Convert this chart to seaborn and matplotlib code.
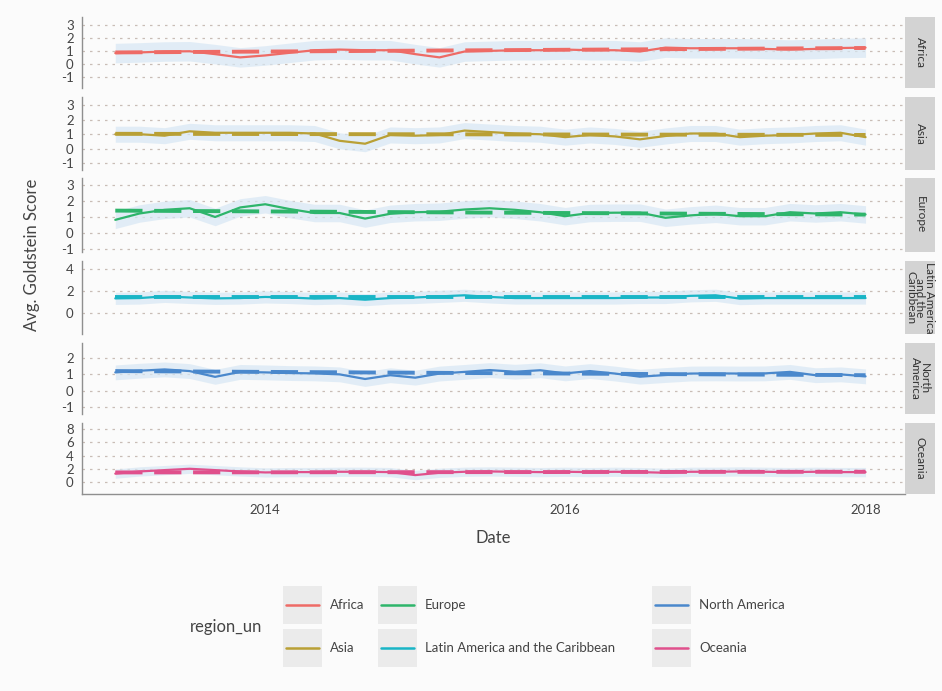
import matplotlib
matplotlib.use("Agg")
import matplotlib.pyplot as plt
from matplotlib.patches import Rectangle
from matplotlib.lines import Line2D
import pandas as pd
import seaborn as sns

# ---- data -------------------------------------------------------------
regions = ["Africa", "Asia", "Europe", "Latin America and the Caribbean",
           "North America", "Oceania"]
strip_labels = ["Africa", "Asia", "Europe", "Latin America\nand the\nCaribbean",
                "North\nAmerica", "Oceania"]
colors = ["#EE6B66", "#B9A035", "#2EB56B", "#19B5C6", "#4A88CC", "#E0508C"]

# smoothed daily average Goldstein score, sampled every two months 2013-01 .. 2018-01
sample_dates = pd.date_range("2013-01-01", "2018-01-01", freq="2MS")
africa_smooth = [0.83, 0.88, 0.95, 0.97, 0.75, 0.50, 0.65, 0.85, 1.05, 1.10, 1.05,
                 1.05, 0.75, 0.50, 0.95, 1.00, 1.05, 1.05, 1.10, 1.05, 1.05, 0.95,
                 1.25, 1.20, 1.20, 1.20, 1.15, 1.10, 1.15, 1.22, 1.25]
asia_smooth = [1.00, 1.00, 0.90, 1.20, 1.10, 1.10, 1.10, 1.10, 1.05, 0.55, 0.35,
               0.95, 0.90, 0.95, 1.25, 1.15, 1.05, 1.00, 0.80, 0.95, 0.85, 0.65,
               0.88, 1.05, 1.05, 0.80, 0.90, 0.95, 1.05, 1.10, 0.80]
europe_smooth = [0.82, 1.22, 1.45, 1.55, 1.00, 1.60, 1.80, 1.50, 1.25, 1.25, 0.90,
                 1.20, 1.30, 1.33, 1.47, 1.55, 1.45, 1.30, 1.05, 1.25, 1.27, 1.27,
                 0.95, 1.10, 1.20, 1.05, 1.05, 1.30, 1.22, 1.30, 1.16]
latam_smooth = [1.32, 1.35, 1.50, 1.40, 1.32, 1.35, 1.45, 1.40, 1.30, 1.35, 1.20,
                1.35, 1.40, 1.50, 1.60, 1.45, 1.35, 1.35, 1.35, 1.35, 1.35, 1.40,
                1.40, 1.55, 1.60, 1.30, 1.35, 1.35, 1.35, 1.35, 1.35]
namerica_smooth = [1.12, 1.22, 1.30, 1.20, 0.85, 1.15, 1.12, 1.08, 1.06, 1.00, 0.72,
                   0.95, 0.80, 1.05, 1.15, 1.26, 1.16, 1.25, 1.06, 1.20, 1.05, 0.86,
                   0.96, 1.05, 1.06, 1.05, 1.06, 1.15, 0.95, 1.00, 0.88]
oceania_smooth = [1.27, 1.60, 1.80, 2.00, 1.80, 1.60, 1.45, 1.50, 1.50, 1.55, 1.55,
                  1.50, 1.05, 1.40, 1.55, 1.60, 1.55, 1.50, 1.55, 1.50, 1.55, 1.50,
                  1.40, 1.55, 1.55, 1.60, 1.55, 1.50, 1.55, 1.50, 1.50]
smooth_values = [africa_smooth, asia_smooth, europe_smooth, latam_smooth,
                 namerica_smooth, oceania_smooth]

# linear trend: value at start (2013-01-01) and end (2018-01-01)
trend_dates = pd.to_datetime(["2013-01-01", "2018-01-01"])
trend_start = [0.88, 1.03, 1.40, 1.40, 1.20, 1.45]
trend_end = [1.22, 0.95, 1.15, 1.40, 0.95, 1.55]

# typical half-spread of the daily averages around the smooth
cloud_halfwidth = [0.75, 0.55, 0.55, 0.55, 0.45, 0.70]

y_limits = [(-1.85, 3.6), (-1.45, 3.55), (-1.2, 3.45), (-1.9, 4.7), (-1.4, 2.9), (-1.8, 8.9)]
y_ticks = [[-1, 0, 1, 2, 3], [-1, 0, 1, 2, 3], [-1, 0, 1, 2, 3], [0, 2, 4],
           [-1, 0, 1, 2], [0, 2, 4, 6, 8]]
x_ticks = pd.to_datetime(["2014-01-01", "2016-01-01", "2018-01-01"])
x_tick_labels = ["2014", "2016", "2018"]

# ---- style ------------------------------------------------------------
sns.set_theme(style="white")
plt.rcParams["font.family"] = ["Lato", "DejaVu Sans"]
bg = "#fbfbfb"
text_col = "#444444"
grid_col = "#c9bdb6"

W, H = 942, 691
fig = plt.figure(figsize=(W / 100, H / 100), dpi=100, facecolor=bg)

def fx(px):
    return px / W

def fy(py):
    return 1 - py / H

panel_left, panel_right, strip_right = 82, 905, 935
tops = [17, 97, 178, 261, 343, 423]
bottoms = [88, 170, 252, 334, 414, 494]
xlim = pd.to_datetime(["2012-10-12", "2018-04-07"])

for i, region in enumerate(regions):
    ax = fig.add_axes([fx(panel_left), fy(bottoms[i]),
                       fx(panel_right - panel_left), (bottoms[i] - tops[i]) / H])
    ax.set_facecolor(bg)
    df = pd.DataFrame({"date": sample_dates, "score": smooth_values[i]})
    lo = [v - cloud_halfwidth[i] for v in smooth_values[i]]
    hi = [v + cloud_halfwidth[i] for v in smooth_values[i]]
    ax.fill_between(sample_dates, lo, hi, color="#d7e7f4", alpha=0.7, lw=0, zorder=1)
    for t in y_ticks[i]:
        ax.axhline(t, color=grid_col, lw=0.9, ls=(0, (2, 4)), zorder=0)
    trend = pd.DataFrame({"date": trend_dates, "score": [trend_start[i], trend_end[i]]})
    sns.lineplot(data=trend, x="date", y="score", ax=ax, color=colors[i], lw=2.8,
                 zorder=3).lines[-1].set_dashes([7, 3])
    sns.lineplot(data=df, x="date", y="score", ax=ax, color=colors[i], lw=1.6, zorder=4)
    ax.set_xlim(xlim)
    ax.set_ylim(y_limits[i])
    ax.set_yticks(y_ticks[i])
    ax.set_yticklabels([str(t) for t in y_ticks[i]], fontsize=9.5, color=text_col)
    ax.tick_params(axis="y", length=0, pad=6)
    ax.set_xlabel("")
    ax.set_ylabel("")
    for s in ["top", "right"]:
        ax.spines[s].set_visible(False)
    ax.spines["left"].set_color("#8f8f8f")
    ax.spines["left"].set_linewidth(1.0)
    if i < len(regions) - 1:
        ax.spines["bottom"].set_visible(False)
        ax.set_xticks([])
    else:
        ax.spines["bottom"].set_color("#8f8f8f")
        ax.spines["bottom"].set_linewidth(1.0)
        ax.set_xticks(x_ticks)
        ax.set_xticklabels(x_tick_labels, fontsize=9.5, color=text_col)
        ax.tick_params(axis="x", length=0, pad=7)
        ax.set_xlabel("Date", fontsize=12, color=text_col, labelpad=10)
    # facet strip on the right
    fig.add_artist(Rectangle((fx(panel_right), fy(bottoms[i])),
                             fx(strip_right - panel_right), (bottoms[i] - tops[i]) / H,
                             facecolor="#d3d3d3", edgecolor="none"))
    fig.text(fx((panel_right + strip_right) / 2), fy((tops[i] + bottoms[i]) / 2),
             strip_labels[i], rotation=270, ha="center", va="center",
             fontsize=8.5, color="#333333", linespacing=0.8)

fig.text(fx(32), fy(255), "Avg. Goldstein Score", rotation=90, ha="center",
         va="center", fontsize=12, color=text_col)

# ---- legend -----------------------------------------------------------
fig.text(fx(190), fy(627), "region_un", ha="left", va="center", fontsize=12,
         color=text_col)
col_x = [283, 378, 652]
row_y = [605, 648]
for i, region in enumerate(regions):
    c, r = divmod(i, 2)
    x0 = col_x[c]
    yc = row_y[r]
    fig.add_artist(Rectangle((fx(x0), fy(yc + 19)), fx(39), 38 / H,
                             facecolor="#ebebeb", edgecolor="none"))
    fig.add_artist(Line2D([fx(x0 + 3), fx(x0 + 36)], [fy(yc), fy(yc)],
                          color=colors[i], lw=1.8))
    fig.text(fx(x0 + 47), fy(yc), region, ha="left", va="center", fontsize=9.5,
             color=text_col)

fig.savefig("out.png", dpi=100, facecolor=bg)
